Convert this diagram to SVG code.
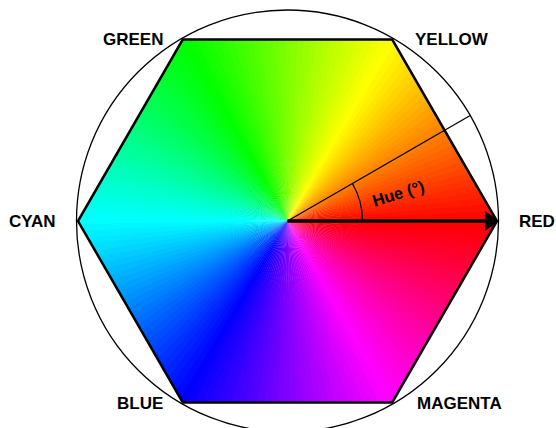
<svg xmlns="http://www.w3.org/2000/svg" xmlns:xlink="http://www.w3.org/1999/xlink" width="556" height="428" viewBox="0 0 556 428">
<style>
.lbl{font-family:"Liberation Sans",Arial,Helvetica,sans-serif;font-weight:bold;font-size:17px;fill:#000}
.thin{fill:none;stroke:#000;stroke-width:1.3}
</style>
<defs>
<clipPath id="hexclip"><polygon points="497,221 392.25,39.57 182.75,39.57 78,221 182.75,402.43 392.25,402.43"/></clipPath>
<path id="w" d="M0 0 L260 -5.6 L260 5.6 Z"/>
</defs>
<rect width="556" height="428" fill="#fff"/>
<g id="hue-wheel" clip-path="url(#hexclip)">
<g transform="translate(287.5 221)">
<use href="#w" transform="rotate(0)" fill="hsl(0,100%,50%)"/>
<use href="#w" transform="rotate(-2)" fill="hsl(2,100%,50%)"/>
<use href="#w" transform="rotate(-4)" fill="hsl(4,100%,50%)"/>
<use href="#w" transform="rotate(-6)" fill="hsl(6,100%,50%)"/>
<use href="#w" transform="rotate(-8)" fill="hsl(8,100%,50%)"/>
<use href="#w" transform="rotate(-10)" fill="hsl(10,100%,50%)"/>
<use href="#w" transform="rotate(-12)" fill="hsl(12,100%,50%)"/>
<use href="#w" transform="rotate(-14)" fill="hsl(14,100%,50%)"/>
<use href="#w" transform="rotate(-16)" fill="hsl(16,100%,50%)"/>
<use href="#w" transform="rotate(-18)" fill="hsl(18,100%,50%)"/>
<use href="#w" transform="rotate(-20)" fill="hsl(20,100%,50%)"/>
<use href="#w" transform="rotate(-22)" fill="hsl(22,100%,50%)"/>
<use href="#w" transform="rotate(-24)" fill="hsl(24,100%,50%)"/>
<use href="#w" transform="rotate(-26)" fill="hsl(26,100%,50%)"/>
<use href="#w" transform="rotate(-28)" fill="hsl(28,100%,50%)"/>
<use href="#w" transform="rotate(-30)" fill="hsl(30,100%,50%)"/>
<use href="#w" transform="rotate(-32)" fill="hsl(32,100%,50%)"/>
<use href="#w" transform="rotate(-34)" fill="hsl(34,100%,50%)"/>
<use href="#w" transform="rotate(-36)" fill="hsl(36,100%,50%)"/>
<use href="#w" transform="rotate(-38)" fill="hsl(38,100%,50%)"/>
<use href="#w" transform="rotate(-40)" fill="hsl(40,100%,50%)"/>
<use href="#w" transform="rotate(-42)" fill="hsl(42,100%,50%)"/>
<use href="#w" transform="rotate(-44)" fill="hsl(44,100%,50%)"/>
<use href="#w" transform="rotate(-46)" fill="hsl(46,100%,50%)"/>
<use href="#w" transform="rotate(-48)" fill="hsl(48,100%,50%)"/>
<use href="#w" transform="rotate(-50)" fill="hsl(50,100%,50%)"/>
<use href="#w" transform="rotate(-52)" fill="hsl(52,100%,50%)"/>
<use href="#w" transform="rotate(-54)" fill="hsl(54,100%,50%)"/>
<use href="#w" transform="rotate(-56)" fill="hsl(56,100%,50%)"/>
<use href="#w" transform="rotate(-58)" fill="hsl(58,100%,50%)"/>
<use href="#w" transform="rotate(-60)" fill="hsl(60,100%,50%)"/>
<use href="#w" transform="rotate(-62)" fill="hsl(62,100%,50%)"/>
<use href="#w" transform="rotate(-64)" fill="hsl(64,100%,50%)"/>
<use href="#w" transform="rotate(-66)" fill="hsl(66,100%,50%)"/>
<use href="#w" transform="rotate(-68)" fill="hsl(68,100%,50%)"/>
<use href="#w" transform="rotate(-70)" fill="hsl(70,100%,50%)"/>
<use href="#w" transform="rotate(-72)" fill="hsl(72,100%,50%)"/>
<use href="#w" transform="rotate(-74)" fill="hsl(74,100%,50%)"/>
<use href="#w" transform="rotate(-76)" fill="hsl(76,100%,50%)"/>
<use href="#w" transform="rotate(-78)" fill="hsl(78,100%,50%)"/>
<use href="#w" transform="rotate(-80)" fill="hsl(80,100%,50%)"/>
<use href="#w" transform="rotate(-82)" fill="hsl(82,100%,50%)"/>
<use href="#w" transform="rotate(-84)" fill="hsl(84,100%,50%)"/>
<use href="#w" transform="rotate(-86)" fill="hsl(86,100%,50%)"/>
<use href="#w" transform="rotate(-88)" fill="hsl(88,100%,50%)"/>
<use href="#w" transform="rotate(-90)" fill="hsl(90,100%,50%)"/>
<use href="#w" transform="rotate(-92)" fill="hsl(92,100%,50%)"/>
<use href="#w" transform="rotate(-94)" fill="hsl(94,100%,50%)"/>
<use href="#w" transform="rotate(-96)" fill="hsl(96,100%,50%)"/>
<use href="#w" transform="rotate(-98)" fill="hsl(98,100%,50%)"/>
<use href="#w" transform="rotate(-100)" fill="hsl(100,100%,50%)"/>
<use href="#w" transform="rotate(-102)" fill="hsl(102,100%,50%)"/>
<use href="#w" transform="rotate(-104)" fill="hsl(104,100%,50%)"/>
<use href="#w" transform="rotate(-106)" fill="hsl(106,100%,50%)"/>
<use href="#w" transform="rotate(-108)" fill="hsl(108,100%,50%)"/>
<use href="#w" transform="rotate(-110)" fill="hsl(110,100%,50%)"/>
<use href="#w" transform="rotate(-112)" fill="hsl(112,100%,50%)"/>
<use href="#w" transform="rotate(-114)" fill="hsl(114,100%,50%)"/>
<use href="#w" transform="rotate(-116)" fill="hsl(116,100%,50%)"/>
<use href="#w" transform="rotate(-118)" fill="hsl(118,100%,50%)"/>
<use href="#w" transform="rotate(-120)" fill="hsl(120,100%,50%)"/>
<use href="#w" transform="rotate(-122)" fill="hsl(122,100%,50%)"/>
<use href="#w" transform="rotate(-124)" fill="hsl(124,100%,50%)"/>
<use href="#w" transform="rotate(-126)" fill="hsl(126,100%,50%)"/>
<use href="#w" transform="rotate(-128)" fill="hsl(128,100%,50%)"/>
<use href="#w" transform="rotate(-130)" fill="hsl(130,100%,50%)"/>
<use href="#w" transform="rotate(-132)" fill="hsl(132,100%,50%)"/>
<use href="#w" transform="rotate(-134)" fill="hsl(134,100%,50%)"/>
<use href="#w" transform="rotate(-136)" fill="hsl(136,100%,50%)"/>
<use href="#w" transform="rotate(-138)" fill="hsl(138,100%,50%)"/>
<use href="#w" transform="rotate(-140)" fill="hsl(140,100%,50%)"/>
<use href="#w" transform="rotate(-142)" fill="hsl(142,100%,50%)"/>
<use href="#w" transform="rotate(-144)" fill="hsl(144,100%,50%)"/>
<use href="#w" transform="rotate(-146)" fill="hsl(146,100%,50%)"/>
<use href="#w" transform="rotate(-148)" fill="hsl(148,100%,50%)"/>
<use href="#w" transform="rotate(-150)" fill="hsl(150,100%,50%)"/>
<use href="#w" transform="rotate(-152)" fill="hsl(152,100%,50%)"/>
<use href="#w" transform="rotate(-154)" fill="hsl(154,100%,50%)"/>
<use href="#w" transform="rotate(-156)" fill="hsl(156,100%,50%)"/>
<use href="#w" transform="rotate(-158)" fill="hsl(158,100%,50%)"/>
<use href="#w" transform="rotate(-160)" fill="hsl(160,100%,50%)"/>
<use href="#w" transform="rotate(-162)" fill="hsl(162,100%,50%)"/>
<use href="#w" transform="rotate(-164)" fill="hsl(164,100%,50%)"/>
<use href="#w" transform="rotate(-166)" fill="hsl(166,100%,50%)"/>
<use href="#w" transform="rotate(-168)" fill="hsl(168,100%,50%)"/>
<use href="#w" transform="rotate(-170)" fill="hsl(170,100%,50%)"/>
<use href="#w" transform="rotate(-172)" fill="hsl(172,100%,50%)"/>
<use href="#w" transform="rotate(-174)" fill="hsl(174,100%,50%)"/>
<use href="#w" transform="rotate(-176)" fill="hsl(176,100%,50%)"/>
<use href="#w" transform="rotate(-178)" fill="hsl(178,100%,50%)"/>
<use href="#w" transform="rotate(-180)" fill="hsl(180,100%,50%)"/>
<use href="#w" transform="rotate(-182)" fill="hsl(182,100%,50%)"/>
<use href="#w" transform="rotate(-184)" fill="hsl(184,100%,50%)"/>
<use href="#w" transform="rotate(-186)" fill="hsl(186,100%,50%)"/>
<use href="#w" transform="rotate(-188)" fill="hsl(188,100%,50%)"/>
<use href="#w" transform="rotate(-190)" fill="hsl(190,100%,50%)"/>
<use href="#w" transform="rotate(-192)" fill="hsl(192,100%,50%)"/>
<use href="#w" transform="rotate(-194)" fill="hsl(194,100%,50%)"/>
<use href="#w" transform="rotate(-196)" fill="hsl(196,100%,50%)"/>
<use href="#w" transform="rotate(-198)" fill="hsl(198,100%,50%)"/>
<use href="#w" transform="rotate(-200)" fill="hsl(200,100%,50%)"/>
<use href="#w" transform="rotate(-202)" fill="hsl(202,100%,50%)"/>
<use href="#w" transform="rotate(-204)" fill="hsl(204,100%,50%)"/>
<use href="#w" transform="rotate(-206)" fill="hsl(206,100%,50%)"/>
<use href="#w" transform="rotate(-208)" fill="hsl(208,100%,50%)"/>
<use href="#w" transform="rotate(-210)" fill="hsl(210,100%,50%)"/>
<use href="#w" transform="rotate(-212)" fill="hsl(212,100%,50%)"/>
<use href="#w" transform="rotate(-214)" fill="hsl(214,100%,50%)"/>
<use href="#w" transform="rotate(-216)" fill="hsl(216,100%,50%)"/>
<use href="#w" transform="rotate(-218)" fill="hsl(218,100%,50%)"/>
<use href="#w" transform="rotate(-220)" fill="hsl(220,100%,50%)"/>
<use href="#w" transform="rotate(-222)" fill="hsl(222,100%,50%)"/>
<use href="#w" transform="rotate(-224)" fill="hsl(224,100%,50%)"/>
<use href="#w" transform="rotate(-226)" fill="hsl(226,100%,50%)"/>
<use href="#w" transform="rotate(-228)" fill="hsl(228,100%,50%)"/>
<use href="#w" transform="rotate(-230)" fill="hsl(230,100%,50%)"/>
<use href="#w" transform="rotate(-232)" fill="hsl(232,100%,50%)"/>
<use href="#w" transform="rotate(-234)" fill="hsl(234,100%,50%)"/>
<use href="#w" transform="rotate(-236)" fill="hsl(236,100%,50%)"/>
<use href="#w" transform="rotate(-238)" fill="hsl(238,100%,50%)"/>
<use href="#w" transform="rotate(-240)" fill="hsl(240,100%,50%)"/>
<use href="#w" transform="rotate(-242)" fill="hsl(242,100%,50%)"/>
<use href="#w" transform="rotate(-244)" fill="hsl(244,100%,50%)"/>
<use href="#w" transform="rotate(-246)" fill="hsl(246,100%,50%)"/>
<use href="#w" transform="rotate(-248)" fill="hsl(248,100%,50%)"/>
<use href="#w" transform="rotate(-250)" fill="hsl(250,100%,50%)"/>
<use href="#w" transform="rotate(-252)" fill="hsl(252,100%,50%)"/>
<use href="#w" transform="rotate(-254)" fill="hsl(254,100%,50%)"/>
<use href="#w" transform="rotate(-256)" fill="hsl(256,100%,50%)"/>
<use href="#w" transform="rotate(-258)" fill="hsl(258,100%,50%)"/>
<use href="#w" transform="rotate(-260)" fill="hsl(260,100%,50%)"/>
<use href="#w" transform="rotate(-262)" fill="hsl(262,100%,50%)"/>
<use href="#w" transform="rotate(-264)" fill="hsl(264,100%,50%)"/>
<use href="#w" transform="rotate(-266)" fill="hsl(266,100%,50%)"/>
<use href="#w" transform="rotate(-268)" fill="hsl(268,100%,50%)"/>
<use href="#w" transform="rotate(-270)" fill="hsl(270,100%,50%)"/>
<use href="#w" transform="rotate(-272)" fill="hsl(272,100%,50%)"/>
<use href="#w" transform="rotate(-274)" fill="hsl(274,100%,50%)"/>
<use href="#w" transform="rotate(-276)" fill="hsl(276,100%,50%)"/>
<use href="#w" transform="rotate(-278)" fill="hsl(278,100%,50%)"/>
<use href="#w" transform="rotate(-280)" fill="hsl(280,100%,50%)"/>
<use href="#w" transform="rotate(-282)" fill="hsl(282,100%,50%)"/>
<use href="#w" transform="rotate(-284)" fill="hsl(284,100%,50%)"/>
<use href="#w" transform="rotate(-286)" fill="hsl(286,100%,50%)"/>
<use href="#w" transform="rotate(-288)" fill="hsl(288,100%,50%)"/>
<use href="#w" transform="rotate(-290)" fill="hsl(290,100%,50%)"/>
<use href="#w" transform="rotate(-292)" fill="hsl(292,100%,50%)"/>
<use href="#w" transform="rotate(-294)" fill="hsl(294,100%,50%)"/>
<use href="#w" transform="rotate(-296)" fill="hsl(296,100%,50%)"/>
<use href="#w" transform="rotate(-298)" fill="hsl(298,100%,50%)"/>
<use href="#w" transform="rotate(-300)" fill="hsl(300,100%,50%)"/>
<use href="#w" transform="rotate(-302)" fill="hsl(302,100%,50%)"/>
<use href="#w" transform="rotate(-304)" fill="hsl(304,100%,50%)"/>
<use href="#w" transform="rotate(-306)" fill="hsl(306,100%,50%)"/>
<use href="#w" transform="rotate(-308)" fill="hsl(308,100%,50%)"/>
<use href="#w" transform="rotate(-310)" fill="hsl(310,100%,50%)"/>
<use href="#w" transform="rotate(-312)" fill="hsl(312,100%,50%)"/>
<use href="#w" transform="rotate(-314)" fill="hsl(314,100%,50%)"/>
<use href="#w" transform="rotate(-316)" fill="hsl(316,100%,50%)"/>
<use href="#w" transform="rotate(-318)" fill="hsl(318,100%,50%)"/>
<use href="#w" transform="rotate(-320)" fill="hsl(320,100%,50%)"/>
<use href="#w" transform="rotate(-322)" fill="hsl(322,100%,50%)"/>
<use href="#w" transform="rotate(-324)" fill="hsl(324,100%,50%)"/>
<use href="#w" transform="rotate(-326)" fill="hsl(326,100%,50%)"/>
<use href="#w" transform="rotate(-328)" fill="hsl(328,100%,50%)"/>
<use href="#w" transform="rotate(-330)" fill="hsl(330,100%,50%)"/>
<use href="#w" transform="rotate(-332)" fill="hsl(332,100%,50%)"/>
<use href="#w" transform="rotate(-334)" fill="hsl(334,100%,50%)"/>
<use href="#w" transform="rotate(-336)" fill="hsl(336,100%,50%)"/>
<use href="#w" transform="rotate(-338)" fill="hsl(338,100%,50%)"/>
<use href="#w" transform="rotate(-340)" fill="hsl(340,100%,50%)"/>
<use href="#w" transform="rotate(-342)" fill="hsl(342,100%,50%)"/>
<use href="#w" transform="rotate(-344)" fill="hsl(344,100%,50%)"/>
<use href="#w" transform="rotate(-346)" fill="hsl(346,100%,50%)"/>
<use href="#w" transform="rotate(-348)" fill="hsl(348,100%,50%)"/>
<use href="#w" transform="rotate(-350)" fill="hsl(350,100%,50%)"/>
<use href="#w" transform="rotate(-352)" fill="hsl(352,100%,50%)"/>
<use href="#w" transform="rotate(-354)" fill="hsl(354,100%,50%)"/>
<use href="#w" transform="rotate(-356)" fill="hsl(356,100%,50%)"/>
<use href="#w" transform="rotate(-358)" fill="hsl(358,100%,50%)"/>
</g>
</g>
<g id="hexagon">
<polygon points="497,221 392.25,39.57 182.75,39.57 78,221 182.75,402.43 392.25,402.43" fill="none" stroke="#000" stroke-width="2.5" stroke-linejoin="miter"/>
</g>
<g id="circle">
<circle cx="287.5" cy="221" r="211" class="thin" stroke-width="1.2"/>
</g>
<g id="connectors">
<line x1="287.5" y1="221" x2="470.2" y2="115.5" class="thin"/>
<path d="M362.5 221 A75 75 0 0 0 352.45 183.5" class="thin"/>
<line x1="287.5" y1="221" x2="486" y2="221" stroke="#000" stroke-width="3.5"/>
<polygon points="499,221 485,211 485,231" fill="#000"/>
</g>
<g id="hue-label">
<text class="lbl" x="400" y="199" text-anchor="middle" style="font-size:16.5px" transform="rotate(-17 400 199)">Hue (°)</text>
</g>
<g id="label-green"><text class="lbl" x="103" y="44.5">GREEN</text></g>
<g id="label-yellow"><text class="lbl" x="415" y="45">YELLOW</text></g>
<g id="label-cyan"><text class="lbl" x="9" y="227">CYAN</text></g>
<g id="label-red"><text class="lbl" x="519" y="227">RED</text></g>
<g id="label-blue"><text class="lbl" x="117" y="409">BLUE</text></g>
<g id="label-magenta"><text class="lbl" x="417" y="409">MAGENTA</text></g>
</svg>
